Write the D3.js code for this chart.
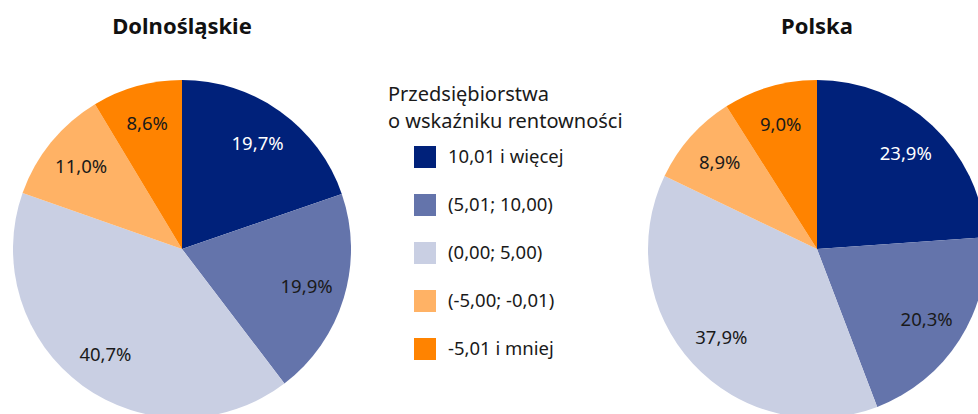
<!DOCTYPE html>
<html>
<head>
<meta charset="utf-8">
<script src="https://cdn.jsdelivr.net/npm/d3@7"></script>
<style>
  body { margin: 0; background: #fff; }
  svg { display: block; font-family: "Noto Sans", "Open Sans", sans-serif; }
</style>
</head>
<body>
<svg id="chart" width="978" height="414"></svg>
<script>
// categories (legend) and colours
const categories = ["10,01 i więcej", "(5,01; 10,00)", "(0,00; 5,00)", "(-5,00; -0,01)", "-5,01 i mniej"];
const colors = ["#00217a", "#6474ab", "#c9cfe3", "#ffb265", "#ff8300"];
const labelColors = ["#ffffff", "#1a1a1a", "#1a1a1a", "#1a1a1a", "#1a1a1a"];

// shares in %
const dolnoslaskie = [19.7, 19.9, 40.7, 11.0, 8.6];
const polska = [23.9, 20.3, 37.9, 8.9, 9.0];

const legendTitle = ["Przedsiębiorstwa", "o wskaźniku rentowności"];

const svg = d3.select("#chart");
const radius = 169;

const pie = d3.pie().sort(null).value(d => d);
const arc = d3.arc().innerRadius(0).outerRadius(radius);
const labelArc = d3.arc().innerRadius(radius * 0.77).outerRadius(radius * 0.77);
const fmt = v => v.toFixed(1).replace(".", ",") + "%";

function drawPie(values, title, cx) {
  svg.append("text")
    .attr("x", cx).attr("y", 34)
    .attr("text-anchor", "middle")
    .attr("font-size", 22).attr("font-weight", "bold")
    .attr("fill", "#111")
    .text(title);

  const g = svg.append("g").attr("transform", `translate(${cx},249)`);
  const arcs = pie(values);

  g.selectAll("path")
    .data(arcs)
    .enter()
    .append("path")
    .attr("d", arc)
    .attr("fill", (d, i) => colors[i]);

  g.selectAll("text")
    .data(arcs)
    .enter()
    .append("text")
    .attr("transform", d => `translate(${labelArc.centroid(d)})`)
    .attr("text-anchor", "middle")
    .attr("dy", "0.35em")
    .attr("font-size", 18.5)
    .attr("fill", (d, i) => labelColors[i])
    .text(d => fmt(d.data));
}

drawPie(dolnoslaskie, "Dolnośląskie", 182);
drawPie(polska, "Polska", 817);

// legend
const legend = svg.append("g");
legend.selectAll("text.title")
  .data(legendTitle)
  .enter()
  .append("text")
  .attr("class", "title")
  .attr("x", 388)
  .attr("y", (d, i) => 101 + i * 27)
  .attr("font-size", 20)
  .attr("fill", "#1a1a1a")
  .text(d => d);

const items = legend.selectAll("g.item")
  .data(categories)
  .enter()
  .append("g")
  .attr("class", "item")
  .attr("transform", (d, i) => `translate(414,${146 + i * 48})`);

items.append("rect")
  .attr("width", 22).attr("height", 22)
  .attr("fill", (d, i) => colors[i]);

items.append("text")
  .attr("x", 34).attr("y", 11)
  .attr("dy", "0.35em")
  .attr("font-size", 18.5)
  .attr("fill", "#1a1a1a")
  .text(d => d);
</script>
</body>
</html>
